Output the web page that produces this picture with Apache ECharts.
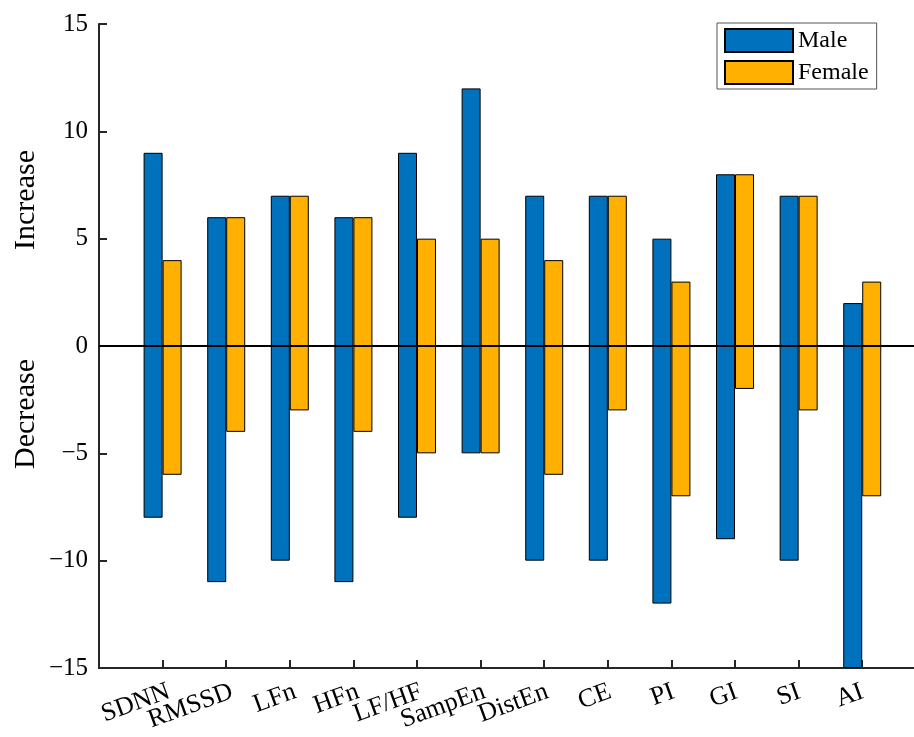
<!DOCTYPE html>
<html>
<head>
<meta charset="utf-8">
<script src="https://cdn.jsdelivr.net/npm/echarts@6/dist/echarts.min.js"></script>
<style>
  html, body { margin: 0; padding: 0; background: #fff; }
  #chart { width: 914px; height: 737px; }
</style>
</head>
<body>
<div id="chart"></div>
<script>
// HRV / complexity indices: count of subjects with an increase (positive) or decrease (negative)
const categories = ['SDNN', 'RMSSD', 'LFn', 'HFn', 'LF/HF', 'SampEn', 'DistEn', 'CE', 'PI', 'GI', 'SI', 'AI'];
const maleIncrease   = [9, 6, 7, 6, 9, 12, 7, 7, 5, 8, 7, 2];
const maleDecrease   = [-8, -11, -10, -11, -8, -5, -10, -10, -12, -9, -10, -15];
const femaleIncrease = [4, 6, 7, 6, 5, 5, 4, 7, 3, 8, 7, 3];
const femaleDecrease = [-6, -4, -3, -4, -5, -5, -6, -3, -7, -2, -3, -7];
const yTicks = [-15, -10, -5, 0, 5, 10, 15];

const FONT = 'Liberation Serif';
const AXIS = '#262626';
const BLUE = '#0072BD';
const ORANGE = '#FFB000';

// categories sit on x = 1..12; the x range is cut off a little before 13
const X_MAX = 12.814;
const positions = categories.map((_, i) => i + 1);
const toPoints = vals => vals.map((v, i) => [positions[i], v]);

const PLOT = { top: 24, height: 644, width: 815 };

const barBase = { type: 'bar', barWidth: 19, barGap: '0%' };
const style = color => ({ color: color, borderColor: '#000', borderWidth: 1 });

// slanted category labels; split over two axes so neighbouring labels never get culled
const labelAxis = values => ({
  type: 'value',
  gridIndex: 1,
  position: 'bottom',
  offset: 0,
  min: 0,
  max: X_MAX,
  interval: 1,
  axisLine: { show: false },
  axisTick: { show: false },
  axisLabel: {
    customValues: values,
    hideOverlap: false,
    showMinLabel: true,
    showMaxLabel: true,
    rotate: 20,
    margin: 23,
    fontFamily: FONT,
    fontSize: 26,
    color: '#000',
    formatter: v => categories[Math.round(v) - 1] || ''
  },
  splitLine: { show: false }
});

const chart = echarts.init(document.getElementById('chart'), null, { renderer: 'canvas' });
chart.setOption({
  animation: false,
  textStyle: { fontFamily: FONT },
  grid: [
    Object.assign({ left: 99 }, PLOT),
    // companion grid that only carries the category labels
    Object.assign({ left: 106 }, PLOT)
  ],
  legend: {
    data: ['Male', 'Female'],
    orient: 'vertical',
    left: 717,
    top: 23,
    padding: [5, 8, 4, 7],
    itemWidth: 68,
    itemHeight: 23,
    itemGap: 7,
    backgroundColor: '#fff',
    borderColor: '#555',
    borderWidth: 1,
    borderRadius: 0,
    icon: 'rect',
    textStyle: { fontFamily: FONT, fontSize: 24, color: '#000' }
  },
  xAxis: [
    {
      type: 'value',
      gridIndex: 0,
      min: 0,
      max: X_MAX,
      interval: 1,
      axisLine: { onZero: false, lineStyle: { color: AXIS, width: 2 } },
      axisTick: {
        inside: true, length: 8,
        lineStyle: { color: AXIS, width: 2 },
        customValues: positions
      },
      axisLabel: { show: false },
      splitLine: { show: false }
    },
    labelAxis(positions.filter(p => p % 2 === 1)),
    labelAxis(positions.filter(p => p % 2 === 0))
  ],
  yAxis: [
    {
      type: 'value',
      gridIndex: 0,
      min: -15,
      max: 15,
      interval: 5,
      axisLine: { show: true, lineStyle: { color: AXIS, width: 2 } },
      axisTick: { show: true, inside: true, length: 8, lineStyle: { color: AXIS, width: 2 } },
      axisLabel: {
        margin: 11,
        fontFamily: FONT,
        fontSize: 25,
        color: '#000',
        formatter: v => yTicks.includes(v) ? String(v).replace('-', '\u2212') : ''
      },
      splitLine: { show: false }
    },
    {
      type: 'value', gridIndex: 1, min: -15, max: 15, interval: 5, show: false
    }
  ],
  graphic: [
    { type: 'text', x: 26, y: 200, rotation: Math.PI / 2,
      style: { text: 'Increase', font: '30px "Liberation Serif"', fill: '#000', align: 'center', verticalAlign: 'middle' } },
    { type: 'text', x: 26, y: 414, rotation: Math.PI / 2,
      style: { text: 'Decrease', font: '30px "Liberation Serif"', fill: '#000', align: 'center', verticalAlign: 'middle' } }
  ],
  series: [
    Object.assign({}, barBase, { name: 'Male', stack: 'male', data: toPoints(maleIncrease), itemStyle: style(BLUE) }),
    Object.assign({}, barBase, { name: 'Male', stack: 'male', data: toPoints(maleDecrease), itemStyle: style(BLUE) }),
    Object.assign({}, barBase, { name: 'Female', stack: 'female', data: toPoints(femaleIncrease), itemStyle: style(ORANGE) }),
    Object.assign({}, barBase, {
      name: 'Female', stack: 'female', data: toPoints(femaleDecrease), itemStyle: style(ORANGE),
      markLine: {
        silent: true,
        symbol: 'none',
        label: { show: false },
        lineStyle: { color: '#000', width: 2, type: 'solid' },
        data: [{ yAxis: 0 }]
      }
    })
  ]
});
</script>
</body>
</html>
